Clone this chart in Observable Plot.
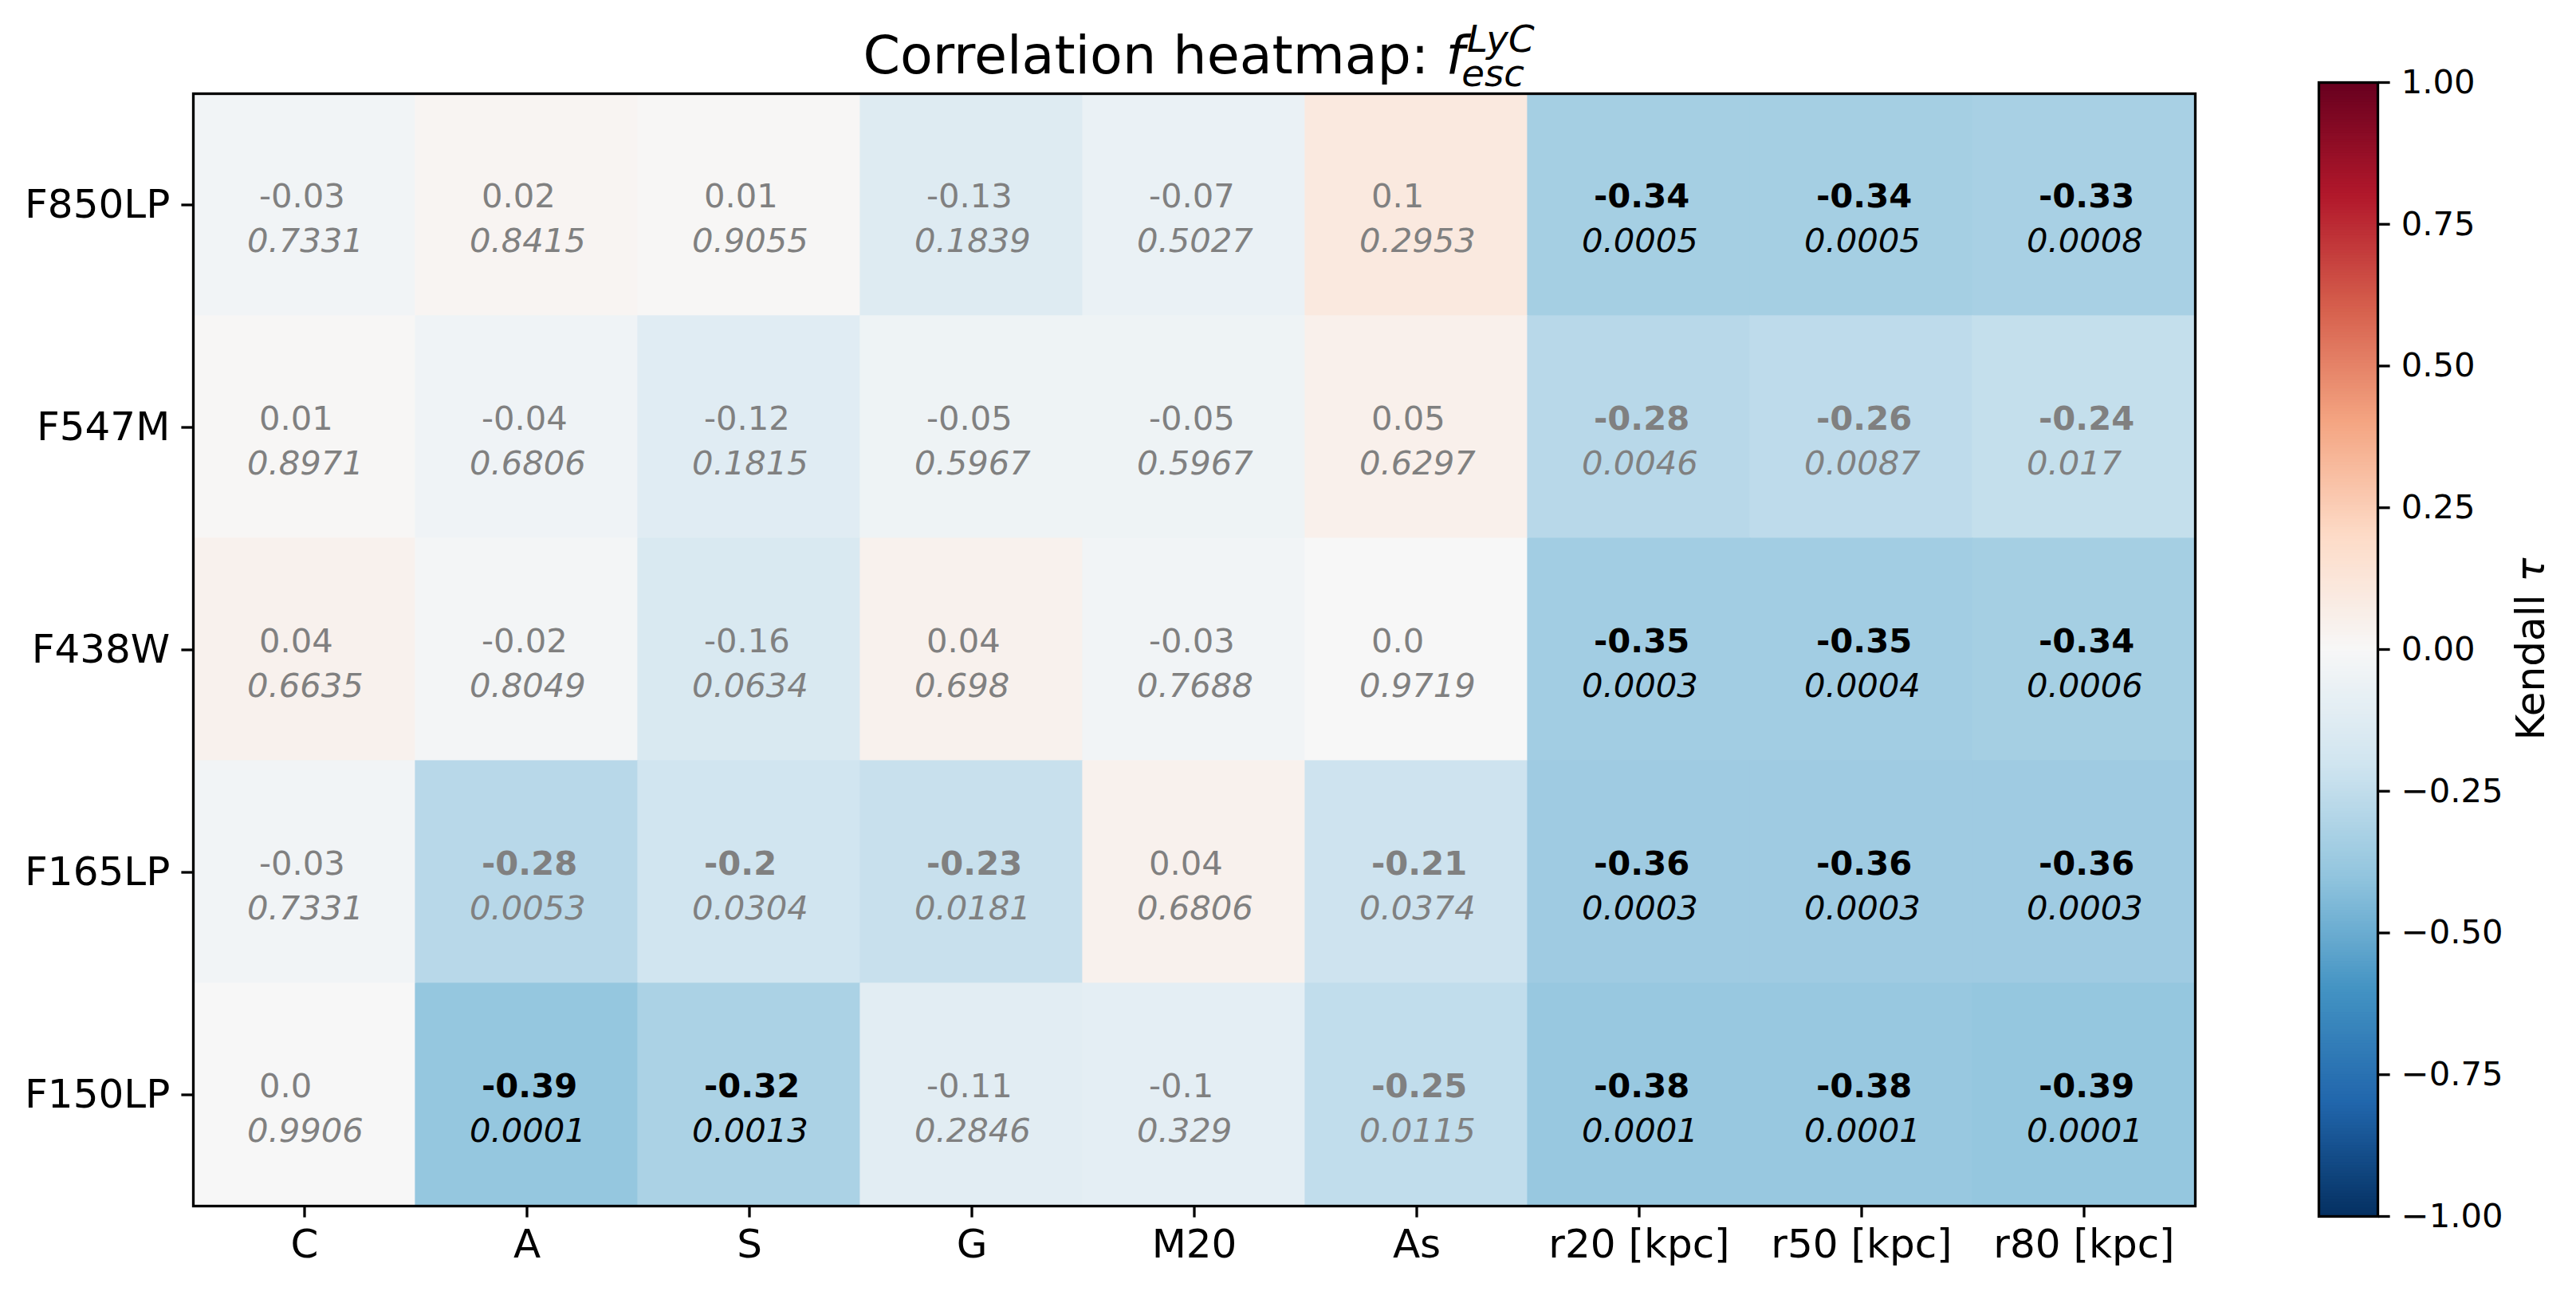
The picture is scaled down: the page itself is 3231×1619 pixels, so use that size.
<!DOCTYPE html>
<html><head><meta charset="utf-8">
<script src="https://cdn.jsdelivr.net/npm/d3@7"></script>
<script src="https://cdn.jsdelivr.net/npm/@observablehq/plot@0.6"></script>
<style>
html,body{margin:0;padding:0;background:#fff;}
#fig{position:relative;width:3231px;height:1619px;font-family:"DejaVu Sans";}
#heat{position:absolute;left:0;top:0;width:2800px;height:1619px;}
#cbar{position:absolute;left:2800px;top:0;width:431px;height:1619px;}
svg{max-width:none !important;}
</style></head><body>
<div id="fig"><div id="heat"></div><div id="cbar"></div></div>
<script>
// ---- data ----
const columns = ["C", "A", "S", "G", "M20", "As", "r20 [kpc]", "r50 [kpc]", "r80 [kpc]"];
const filters = ["F850LP", "F547M", "F438W", "F165LP", "F150LP"];

const tauF850LP = [-0.03, 0.02, 0.01, -0.13, -0.07, 0.1, -0.34, -0.34, -0.33];
const tauF547M  = [0.01, -0.04, -0.12, -0.05, -0.05, 0.05, -0.28, -0.26, -0.24];
const tauF438W  = [0.04, -0.02, -0.16, 0.04, -0.03, 0.0, -0.35, -0.35, -0.34];
const tauF165LP = [-0.03, -0.28, -0.2, -0.23, 0.04, -0.21, -0.36, -0.36, -0.36];
const tauF150LP = [0.0, -0.39, -0.32, -0.11, -0.1, -0.25, -0.38, -0.38, -0.39];

const pF850LP = [0.7331, 0.8415, 0.9055, 0.1839, 0.5027, 0.2953, 0.0005, 0.0005, 0.0008];
const pF547M  = [0.8971, 0.6806, 0.1815, 0.5967, 0.5967, 0.6297, 0.0046, 0.0087, 0.017];
const pF438W  = [0.6635, 0.8049, 0.0634, 0.698, 0.7688, 0.9719, 0.0003, 0.0004, 0.0006];
const pF165LP = [0.7331, 0.0053, 0.0304, 0.0181, 0.6806, 0.0374, 0.0003, 0.0003, 0.0003];
const pF150LP = [0.9906, 0.0001, 0.0013, 0.2846, 0.329, 0.0115, 0.0001, 0.0001, 0.0001];

const colorbarTicks = [-1, -0.75, -0.5, -0.25, 0, 0.25, 0.5, 0.75, 1];
const rdbuR = ["#053061","#2166ac","#4393c3","#92c5de","#d1e5f0","#f7f7f7","#fddbc7","#f4a582","#d6604d","#b2182b","#67001f"];

// ---- table ----
const tauRows = [tauF850LP, tauF547M, tauF438W, tauF165LP, tauF150LP];
const pRows = [pF850LP, pF547M, pF438W, pF165LP, pF150LP];
const table = [];
filters.forEach((f, i) => columns.forEach((c, j) => table.push({row: f, col: c, tau: tauRows[i][j], p: pRows[i][j]})));

const stops = rdbuR.map((_, i) => -1 + i * 0.2);
const colorOpts = {type: "linear", domain: stops, range: rdbuR, interpolate: "rgb", clamp: true};

const tauStr = v => Number.isInteger(v) ? v.toFixed(1) : String(v);
const sig = d => d.p < 0.05;
const strong = d => sig(d) && Math.abs(d.tau) >= 0.3;

const FONT = "DejaVu Sans";
const cellFont = 41.7;
const textMarks = [];
const groups = [
  {f: d => strong(d), fill: "black", weight: "bold"},
  {f: d => sig(d) && !strong(d), fill: "gray", weight: "bold"},
  {f: d => !sig(d), fill: "gray", weight: "normal"}
];
for (const g of groups) {
  const sub = table.filter(g.f);
  textMarks.push(Plot.text(sub, {x: "col", y: "row", text: d => tauStr(d.tau), textAnchor: "start", lineAnchor: "bottom",
    dx: -57, dy: 2.5, fontSize: cellFont, fontWeight: g.weight, fill: g.fill, fontFamily: FONT}));
  textMarks.push(Plot.text(sub, {x: "col", y: "row", text: d => String(d.p), textAnchor: "start", lineAnchor: "bottom",
    dx: -72, dy: 58.5, fontSize: cellFont, fontStyle: "italic", fill: g.fill, fontFamily: FONT}));
}

const heat = Plot.plot({
  width: 2800, height: 1619,
  marginLeft: 242, marginRight: 47, marginTop: 117, marginBottom: 107,
  style: {fontFamily: FONT, background: "white", color: "black", overflow: "visible"},
  x: {domain: columns, padding: 0, label: null},
  y: {domain: filters, padding: 0, label: null},
  color: colorOpts,
  marks: [
    Plot.cell(table, {x: "col", y: "row", fill: "tau", inset: -0.6}),
    ...textMarks,
    Plot.frame({stroke: "black", strokeWidth: 3.3}),
    Plot.axisX({tickSize: 14.6, tickPadding: 14.6, fontSize: 50, strokeWidth: 3.3, label: null}),
    Plot.axisY({tickSize: 14.6, tickPadding: 14.6, fontSize: 50, strokeWidth: 3.3, label: null})
  ]
});
document.getElementById("heat").appendChild(heat);

// title with math-style f_esc^LyC (single text, tspans positioned relatively)
const cx = (242 + 2753) / 2;
const supSize = 46.7;
const supAdv = 1.847 * supSize; // advance of "LyC" in DejaVu Sans Oblique
const t1 = d3.select(heat).append("text")
  .attr("x", cx + 6).attr("y", 92).attr("text-anchor", "middle")
  .attr("font-size", 66.7).attr("fill", "black").style("font-family", FONT).style("white-space", "pre");
t1.append("tspan").text("Correlation heatmap: ");
t1.append("tspan").attr("font-style", "italic").text("f");
t1.append("tspan").attr("font-style", "italic").attr("font-size", supSize).attr("dx", 3).attr("dy", -27).text("LyC");
t1.append("tspan").attr("font-style", "italic").attr("font-size", supSize).attr("dx", -(supAdv + 5)).attr("dy", 43).text("esc");

// colorbar
const N = 400;
const ramp = d3.range(N).map(i => ({y1: -1 + 2 * i / N, y2: Math.min(1, -1 + 2 * (i + 1) / N + 0.003), v: -1 + 2 * (i + 0.5) / N}));
const cbar = Plot.plot({
  width: 431, height: 1619,
  marginLeft: 108, marginRight: 249, marginTop: 103, marginBottom: 94,
  style: {fontFamily: FONT, background: "white", color: "black", overflow: "visible"},
  y: {domain: [-1, 1], axis: null},
  color: colorOpts,
  marks: [
    Plot.rect(ramp, {y1: "y1", y2: "y2", fill: "v"}),
    Plot.frame({stroke: "black", strokeWidth: 3.3}),
    Plot.axisY({anchor: "right", ticks: colorbarTicks, tickFormat: d => d.toFixed(2).replace("-", "\u2212"),
      tickSize: 14.6, tickPadding: 14.6, fontSize: 41.7, strokeWidth: 3.3, label: null})
  ]
});
document.getElementById("cbar").appendChild(cbar);
const lab = d3.select(cbar).append("text")
  .attr("transform", "translate(391,814) rotate(-90)")
  .attr("text-anchor", "middle").attr("font-size", 50).attr("fill", "black").style("font-family", FONT);
lab.append("tspan").text("Kendall ");
lab.append("tspan").attr("font-style", "italic").text("\u03c4");
</script>
</body></html>
